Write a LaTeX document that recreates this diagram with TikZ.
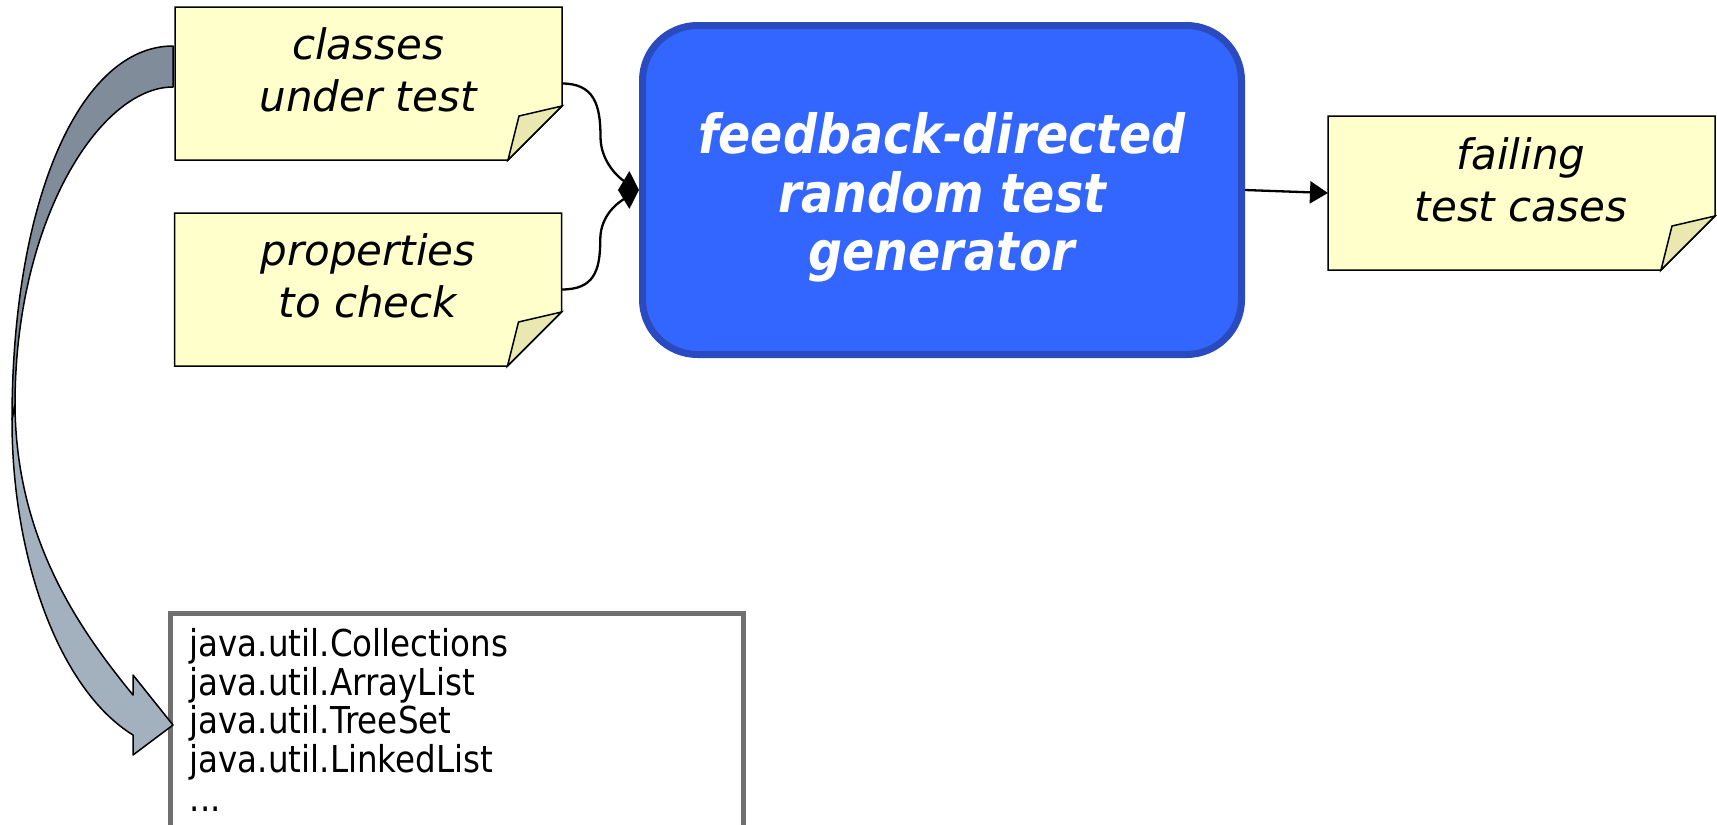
\documentclass[tikz,border=0pt]{standalone}
\usepackage{fontspec}
\setmainfont{DejaVu Sans}
\newfontfamily\notefont{DejaVu Sans}
\newfontfamily\condfont{DejaVu Sans}[FakeStretch=0.88]
\usetikzlibrary{arrows.meta,calc}
\definecolor{notefill}{HTML}{FFFFCC}
\definecolor{foldfill}{HTML}{E8E8B0}
\definecolor{genblue}{HTML}{3366FF}
\definecolor{genborder}{HTML}{2A4BBF}
\definecolor{javagray}{HTML}{707070}
\definecolor{ribdark}{HTML}{808C99}
\definecolor{riblight}{HTML}{A3B1BF}
\tikzset{
  notebox/.style={minimum width=387pt, minimum height=153pt, inner sep=0pt, outer sep=0pt},
  notetext/.style={font=\notefont\itshape\fontsize{42}{52}\selectfont, align=center, inner sep=0pt},
  noteline/.style={draw=black, line width=1.5pt, fill=notefill, line join=miter},
  foldline/.style={draw=black, line width=1.5pt, fill=foldfill, line join=miter},
  flow/.style={line width=2.3pt, -{Triangle[length=18pt,width=22pt]}},
  ribbon/.style={draw=black, line width=1.5pt, line join=round},
}
\newcommand\mynote[1]{%
  \path[noteline] (#1.north west) -- (#1.north east) -- ([yshift=54pt]#1.south east)
     -- ([xshift=-54pt]#1.south east) -- (#1.south west) -- cycle;
  \path[foldline] ([yshift=54pt]#1.south east) -- ([xshift=-43pt,yshift=44pt]#1.south east)
     -- ([xshift=-54pt]#1.south east) -- cycle;}
\begin{document}
\begin{tikzpicture}[x=1pt,y=-1pt]
\useasboundingbox (0,0) rectangle (1717,825);

% notes
\node[notebox] (classes) at (368.5,83.5) {};
\mynote{classes}
\node[notetext] (classes-t) at (368,69.5) {classes\\under test};

\node[notebox] (props) at (368,289.5) {};
\mynote{props}
\node[notetext] (props-t) at (368,275.5) {properties\\to check};

\node[notebox, minimum height=154pt] (fail) at (1521.5,193) {};
\mynote{fail}
\node[notetext] (fail-t) at (1521,179.5) {failing\\test cases};

% generator
\node[draw=genborder, fill=genblue, line width=7pt, rounded corners=55pt,
      minimum width=599pt, minimum height=329pt, inner sep=0pt] (gen) at (942,190) {};
\node[font=\condfont\bfseries\itshape\fontsize{54}{58.7}\selectfont, text=white,
      align=center, inner sep=0pt] (gen-t) at (942,197.5) {feedback-directed\\random test\\generator};

% java list
\node[draw=javagray, fill=white, line width=5pt, minimum width=573pt, minimum height=230pt,
      inner sep=0pt, anchor=north west] (java) at (168,611) {};
\node[anchor=north west, font=\condfont\fontsize{37}{38.75}\selectfont, align=left,
      inner sep=0pt] (java-t) at (189.5,628)
  {java.util.Collections\\java.util.ArrayList\\java.util.TreeSet\\java.util.LinkedList\\...};

% connectors
\coordinate (m1) at ($(classes.east)!0.5!(gen.west)$);
\coordinate (m2) at ($(props.east)!0.5!(gen.west)$);
\draw[flow] (classes.east) .. controls +(32,0) and +(0,-32) .. (m1)
            .. controls +(0,25) and +(-20,-12) .. (gen.west);
\draw[flow] (props.east) .. controls +(32,0) and +(0,32) .. (m2)
            .. controls +(0,-25) and +(-20,12) .. (gen.west);
\draw[flow] (gen.east) -- (fail.west);

% curved block arrow
\path[ribbon, fill=ribdark] (173,46) .. controls (80,46) and (12,200) .. (12,420)
   -- (15,405) .. controls (15,220) and (100,87) .. (173,87) -- cycle;
\path[ribbon, fill=riblight] (12,420) .. controls (12,560) and (60,690) .. (133,735)
   -- (133,755) -- (173,725) -- (133,675) -- (133,695)
   .. controls (80,630) and (16,540) .. (15,405) -- cycle;
\end{tikzpicture}
\end{document}
